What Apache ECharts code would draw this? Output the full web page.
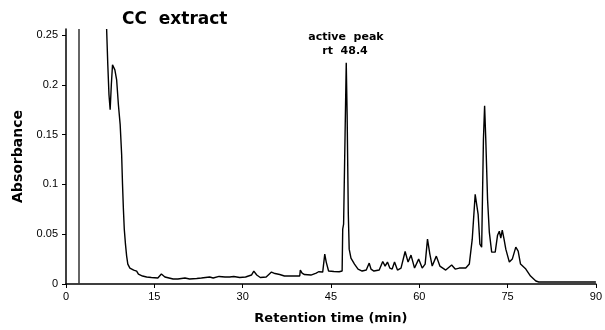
<!DOCTYPE html>
<html>
<head>
<meta charset="utf-8">
<script src="https://cdn.jsdelivr.net/npm/echarts@6/dist/echarts.min.js"></script>
<style>
html,body{margin:0;padding:0;background:#fff;}
#chart{width:605px;height:330px;}
</style>
</head>
<body>
<div id="chart"></div>
<script>
// Retention time (min)
var times = [6.9, 7.1, 7.3, 7.5, 7.7, 7.9, 8.1, 8.3, 8.6, 8.9, 9.2, 9.45, 9.6, 9.75, 9.9, 10.1, 10.3, 10.5, 10.85,
  11.5, 12.0, 12.3, 13.0, 13.7, 14.5, 15.6, 15.9, 16.2, 16.5, 16.8, 17.5, 18.2, 19.0, 20.2, 21.0, 22.2, 23.0,
  24.4, 25.0, 26.0, 27.0, 27.8, 28.5, 29.5, 30.5, 31.5, 31.9, 32.4, 33.0, 34.0, 34.9, 35.5, 36.3, 37.1, 38.5,
  39.7, 39.8, 40.1, 40.5, 41.6, 42.5, 42.9, 43.6, 43.95, 44.2, 44.6, 45.5, 46.4, 46.9, 47.0, 47.15, 47.4, 47.6,
  47.75, 47.95, 48.1, 48.4, 49.0, 49.6, 50.3, 51.0, 51.5, 51.8, 52.3, 53.2, 53.8, 54.2, 54.6, 55.0, 55.4, 55.8,
  56.3, 56.9, 57.6, 58.1, 58.6, 59.2, 59.9, 60.5, 61.0, 61.4, 61.8, 62.2, 62.9, 63.5, 64.5, 65.5, 66.1, 66.8,
  67.1, 67.9, 68.5, 69.0, 69.5, 69.7, 70.0, 70.3, 70.6, 70.9, 71.1, 71.3, 71.6, 71.9, 72.3, 72.9, 73.3, 73.6,
  73.85, 74.1, 74.4, 74.7, 75.3, 75.8, 76.4, 76.8, 77.2, 78.1, 78.9, 79.8, 80.3, 90.0];
// Absorbance
var absorbance = [0.256, 0.22, 0.19, 0.175, 0.2, 0.22, 0.222, 0.215, 0.205, 0.18, 0.16, 0.13, 0.1, 0.075, 0.055, 0.04, 0.028, 0.02, 0.016,
  0.014, 0.013, 0.01, 0.008, 0.007, 0.0065, 0.006, 0.008, 0.010, 0.009, 0.007, 0.006, 0.005, 0.005, 0.006, 0.005, 0.0055, 0.006,
  0.007, 0.006, 0.0076, 0.007, 0.007, 0.0075, 0.0065, 0.007, 0.009, 0.013, 0.009, 0.0065, 0.007, 0.012, 0.0105, 0.0095, 0.008, 0.008,
  0.008, 0.014, 0.011, 0.0095, 0.009, 0.011, 0.0123, 0.012, 0.030, 0.022, 0.013, 0.0125, 0.0123, 0.013, 0.055, 0.06, 0.15, 0.222,
  0.17, 0.07, 0.035, 0.026, 0.02, 0.015, 0.013, 0.014, 0.021, 0.015, 0.013, 0.014, 0.0226, 0.018, 0.022, 0.016, 0.015, 0.022,
  0.014, 0.016, 0.0326, 0.022, 0.029, 0.016, 0.025, 0.016, 0.02, 0.045, 0.030, 0.018, 0.028, 0.018, 0.014, 0.019, 0.015, 0.016,
  0.018, 0.016, 0.020, 0.045, 0.09, 0.092, 0.07, 0.04, 0.037, 0.145, 0.179, 0.145, 0.085, 0.052, 0.032, 0.032, 0.049, 0.053,
  0.046, 0.054, 0.045, 0.035, 0.022, 0.025, 0.037, 0.033, 0.02, 0.015, 0.008, 0.003, 0.002, 0.002];
var xTicks = [0, 15, 30, 45, 60, 75, 90];
var yTicks = [0, 0.05, 0.1, 0.15, 0.2, 0.25];
var injectionMark = 2.25;

var data = times.map(function (t, i) { return [t, absorbance[i]]; });

var chart = echarts.init(document.getElementById('chart'), null, { renderer: 'canvas' });
var boldFont = 'DejaVu Sans';
chart.setOption({
  animation: false,
  backgroundColor: '#fff',
  grid: { left: 66, right: 8, top: 29, bottom: 44, containLabel: false },
  xAxis: {
    type: 'value', min: 0, max: 90, interval: 15,
    name: 'Retention time (min)', nameLocation: 'middle', nameGap: 28,
    nameTextStyle: { fontFamily: boldFont, fontWeight: 'bold', fontSize: 13, color: '#000' },
    axisLine: { show: true, lineStyle: { color: '#000', width: 1.5 } },
    axisTick: { show: true, length: 4, lineStyle: { color: '#000', width: 1 }, customValues: xTicks },
    axisLabel: { color: '#000', fontFamily: 'Liberation Sans', fontSize: 11, margin: 7, customValues: xTicks },
    splitLine: { show: false }
  },
  yAxis: {
    type: 'value', min: 0, max: 0.256, interval: 0.05,
    name: 'Absorbance', nameLocation: 'middle', nameGap: 40, nameRotate: 90,
    nameTextStyle: { fontFamily: boldFont, fontWeight: 'bold', fontSize: 14, color: '#000' },
    axisLine: { show: true, lineStyle: { color: '#000', width: 1.5 } },
    axisTick: { show: true, length: 4, lineStyle: { color: '#000', width: 1 }, customValues: yTicks },
    axisLabel: { color: '#000', fontFamily: 'Liberation Sans', fontSize: 11, margin: 8, customValues: yTicks },
    splitLine: { show: false }
  },
  series: [{
    type: 'line',
    data: data,
    showSymbol: false,
    lineStyle: { color: '#000', width: 1.4 },
    markLine: {
      silent: true, symbol: ['none', 'none'],
      label: { show: false },
      lineStyle: { color: '#333', width: 1.5, type: 'solid' },
      data: [{ xAxis: injectionMark }]
    }
  }],
  graphic: [
    { type: 'text', left: 122, top: 11,
      style: { text: 'CC  extract', fontFamily: boldFont, fontWeight: 'bold', fontSize: 17, fill: '#000' } },
    { type: 'text', x: 346, y: 37,
      style: { text: 'active  peak', fontFamily: boldFont, fontWeight: 'bold', fontSize: 11, fill: '#000', align: 'center', verticalAlign: 'middle' } },
    { type: 'text', x: 345, y: 51,
      style: { text: 'rt  48.4', fontFamily: boldFont, fontWeight: 'bold', fontSize: 11, fill: '#000', align: 'center', verticalAlign: 'middle' } }
  ]
});
</script>
</body>
</html>
